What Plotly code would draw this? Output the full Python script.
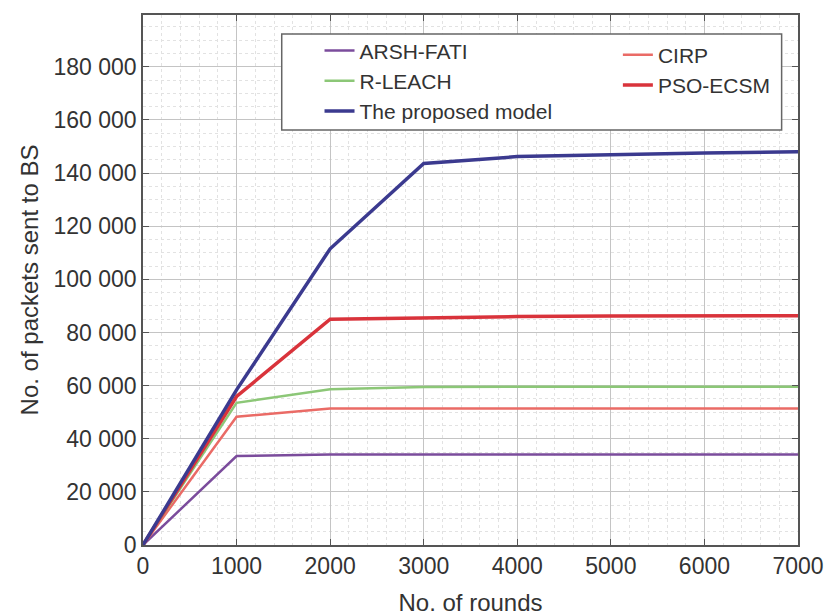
import plotly.graph_objects as go

rounds = [0, 1000, 2000, 3000, 4000, 5000, 6000, 7000]
arsh_fati = [0, 33500, 34100, 34100, 34100, 34100, 34100, 34100]
cirp = [0, 48300, 51400, 51400, 51400, 51400, 51400, 51400]
r_leach = [0, 53500, 58600, 59500, 59600, 59600, 59600, 59600]
pso_ecsm = [0, 55900, 85000, 85600, 86000, 86200, 86300, 86300]
proposed = [0, 58400, 111500, 143600, 146200, 147000, 147600, 148000]

y_ticks = [0, 20000, 40000, 60000, 80000, 100000, 120000, 140000, 160000, 180000]
y_tick_text = ["0", "20 000", "40 000", "60 000", "80 000", "100 000",
               "120 000", "140 000", "160 000", "180 000"]
x_ticks = [0, 1000, 2000, 3000, 4000, 5000, 6000, 7000]

FONT = "Liberation Sans, Arial, sans-serif"

fig = go.Figure()
series = [
    ("ARSH-FATI", arsh_fati, "#7b4c9c", 2.5, "legend"),
    ("CIRP", cirp, "#ea6b66", 2.5, "legend2"),
    ("R-LEACH", r_leach, "#8cc777", 2.5, "legend"),
    ("PSO-ECSM", pso_ecsm, "#d9333b", 3.5, "legend2"),
    ("The proposed model", proposed, "#3b3a8f", 3.5, "legend"),
]
for name, vals, color, w, lg in series:
    fig.add_trace(go.Scatter(x=rounds, y=vals, mode="lines", name=name,
                             line=dict(color=color, width=w), legend=lg))

axis_common = dict(
    showline=True, linecolor="#555555", linewidth=1.5, mirror="ticks",
    ticks="inside", ticklen=6, tickcolor="#555555", automargin=False,
    showgrid=True, gridcolor="#c4c4c4", gridwidth=1, zeroline=False,
    tickfont=dict(family=FONT, size=23, color="#333333"),
)

fig.update_xaxes(
    range=[0, 7000], tickvals=x_ticks,
    minor=dict(dtick=200, showgrid=True, gridcolor="#e2e2e2", griddash="dot", gridwidth=1),
    title=dict(text="No. of rounds", font=dict(family=FONT, size=24, color="#333333"), standoff=16),
    **axis_common,
)
fig.update_yaxes(
    range=[0, 199500], tickvals=y_ticks, ticktext=y_tick_text,
    minor=dict(dtick=5000, showgrid=True, gridcolor="#e2e2e2", griddash="dot", gridwidth=1),
    title=dict(text="No. of packets sent to BS", font=dict(family=FONT, size=24, color="#333333"), standoff=8),
    **axis_common,
)

legend_font = dict(family=FONT, size=21, color="#333333")
fig.add_shape(type="rect", xref="paper", yref="paper",
              x0=0.2118, x1=0.975, y0=0.783, y1=0.964,
              line=dict(color="#666666", width=1.5), fillcolor="white", layer="above")

fig.update_layout(
    width=826, height=616,
    margin=dict(l=143, r=28, t=15, b=71),
    paper_bgcolor="white", plot_bgcolor="white",
    showlegend=True,
    legend=dict(x=0.2695, y=0.971, xanchor="left", yanchor="top", bgcolor="rgba(0,0,0,0)",
                font=legend_font, tracegroupgap=0),
    legend2=dict(x=0.725, y=0.963, xanchor="left", yanchor="top", bgcolor="rgba(0,0,0,0)",
                 font=legend_font, tracegroupgap=0),
)

fig.write_html("out.html")
